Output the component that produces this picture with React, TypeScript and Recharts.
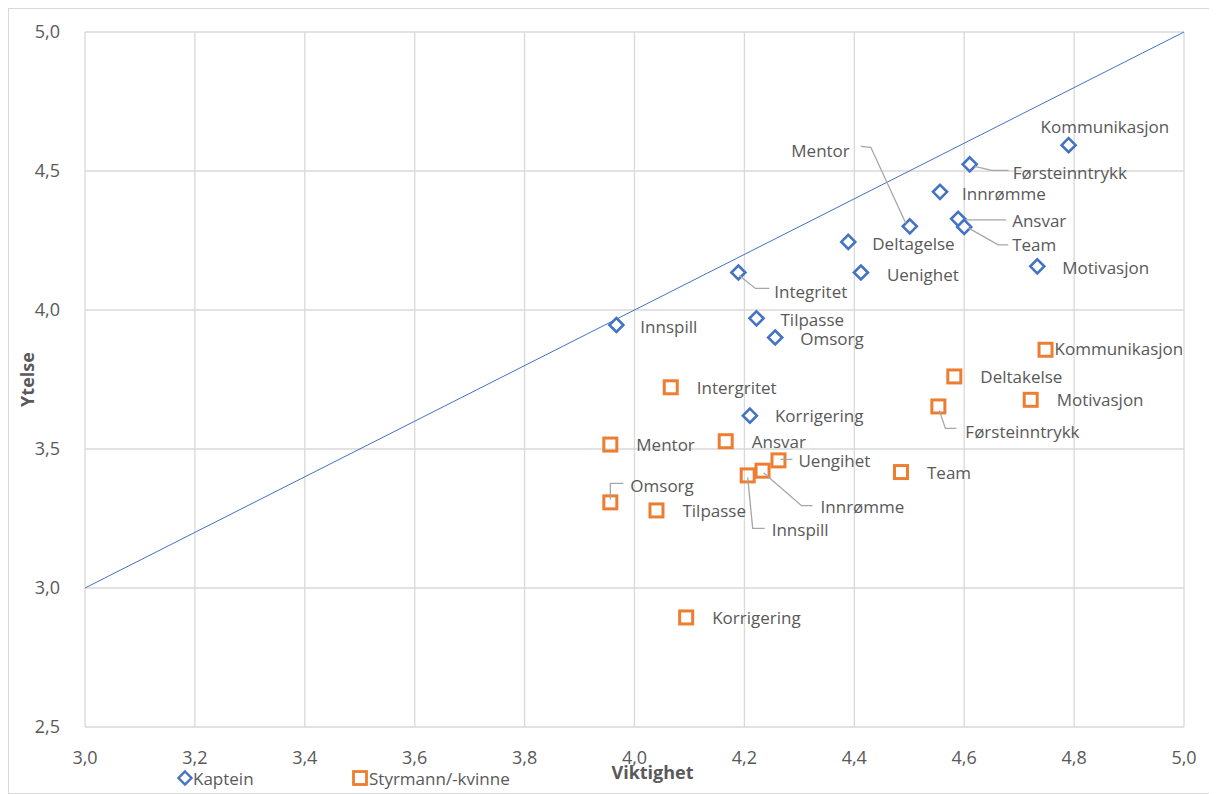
import {
  ScatterChart,
  Scatter,
  XAxis,
  YAxis,
  CartesianGrid,
  ReferenceLine,
  Legend,
  Label,
} from "recharts";

// Kaptein (blue diamonds)
const kapteinNames = [
  "Kommunikasjon", "Førsteinntrykk", "Innrømme", "Ansvar", "Team", "Mentor", "Deltagelse",
  "Uenighet", "Motivasjon", "Integritet", "Innspill", "Tilpasse", "Omsorg", "Korrigering",
];
const kapteinViktighet = [4.79, 4.61, 4.556, 4.589, 4.6, 4.501, 4.389, 4.412, 4.733, 4.189, 3.967, 4.222, 4.256, 4.21];
const kapteinYtelse = [4.593, 4.524, 4.425, 4.328, 4.299, 4.301, 4.245, 4.135, 4.157, 4.135, 3.946, 3.97, 3.901, 3.62];

// Styrmann/-kvinne (orange squares)
const styrmannNames = [
  "Kommunikasjon", "Deltakelse", "Motivasjon", "Førsteinntrykk", "Intergritet", "Mentor", "Ansvar",
  "Uengihet", "Innrømme", "Innspill", "Team", "Omsorg", "Tilpasse", "Korrigering",
];
const styrmannViktighet = [4.748, 4.582, 4.721, 4.553, 4.066, 3.956, 4.166, 4.262, 4.233, 4.206, 4.485, 3.956, 4.04, 4.094];
const styrmannYtelse = [3.857, 3.761, 3.677, 3.653, 3.722, 3.516, 3.528, 3.459, 3.422, 3.405, 3.417, 3.308, 3.279, 2.894];

// y = x reference line
const diagonal = [3, 5];

const xTicks = [3, 3.2, 3.4, 3.6, 3.8, 4, 4.2, 4.4, 4.6, 4.8, 5];
const yTicks = [2.5, 3, 3.5, 4, 4.5, 5];

type LabelPos = { dx: number; dy: number; anchor?: "start" | "end"; leader?: number[][] };

// label placement relative to the marker (data-label positions like in Excel)
const kapteinLabels: Record<string, LabelPos> = {
  Kommunikasjon: { dx: -28, dy: -19 },
  Førsteinntrykk: { dx: 43, dy: 8, leader: [[5, 2], [22, 6], [39, 6]] },
  Innrømme: { dx: 22, dy: 2 },
  Ansvar: { dx: 54, dy: 2, leader: [[5, 1], [48, 1]] },
  Team: { dx: 48, dy: 18, leader: [[4, 1], [34, 18], [44, 18]] },
  Mentor: { dx: -60, dy: -76, anchor: "end", leader: [[-49, -80], [-39, -79], [-4, -3]] },
  Deltagelse: { dx: 24, dy: 2 },
  Uenighet: { dx: 26, dy: 2 },
  Motivasjon: { dx: 25, dy: 1 },
  Integritet: { dx: 36, dy: 19, leader: [[1, 3], [17, 16], [31, 16]] },
  Innspill: { dx: 24, dy: 1 },
  Tilpasse: { dx: 24, dy: 1 },
  Omsorg: { dx: 25, dy: 1 },
  Korrigering: { dx: 25, dy: 0 },
};

const styrmannLabels: Record<string, LabelPos> = {
  Kommunikasjon: { dx: 9, dy: -1 },
  Deltakelse: { dx: 26, dy: 0 },
  Motivasjon: { dx: 26, dy: 0 },
  Førsteinntrykk: { dx: 27, dy: 25, leader: [[1, 4], [7, 22], [18, 22]] },
  Intergritet: { dx: 26, dy: 0 },
  Mentor: { dx: 26, dy: 0 },
  Ansvar: { dx: 26, dy: 0 },
  Uengihet: { dx: 20, dy: 0, leader: [[2, -1], [14, -1]] },
  Innrømme: { dx: 58, dy: 36, leader: [[1, 2], [39, 35], [50, 35]] },
  Innspill: { dx: 24, dy: 54, leader: [[0, 2], [5, 53], [17, 53]] },
  Team: { dx: 26, dy: 0 },
  Omsorg: { dx: 20, dy: -17, leader: [[0, -3], [0, -19], [13, -19]] },
  Tilpasse: { dx: 26, dy: 0 },
  Korrigering: { dx: 26, dy: 0 },
};

const BLUE = "#4472C4";
const ORANGE = "#ED7D31";
const TEXT = "#595959";
const GRID = "#D9D9D9";
const FONT = '"Open Sans", sans-serif';

const kapteinData = kapteinNames.map((name, i) => ({ name, x: kapteinViktighet[i], y: kapteinYtelse[i] }));
const styrmannData = styrmannNames.map((name, i) => ({ name, x: styrmannViktighet[i], y: styrmannYtelse[i] }));

const fmt = (v: number) => v.toFixed(1).replace(".", ",");

const DataLabel = ({ cx, cy, pos, name }: { cx: number; cy: number; pos?: LabelPos; name: string }) => {
  const p = pos ?? { dx: 24, dy: 0 };
  return (
    <g>
      {p.leader && (
        <polyline
          points={p.leader.map(([a, b]) => `${cx + a},${cy + b}`).join(" ")}
          fill="none"
          stroke="#A6A6A6"
          strokeWidth={1.3}
        />
      )}
      <text
        x={cx + p.dx}
        y={cy + p.dy}
        textAnchor={p.anchor ?? "start"}
        dominantBaseline="central"
        fill={TEXT}
        fontSize={17}
        fontFamily={FONT}
      >
        {name}
      </text>
    </g>
  );
};

const DiamondShape = (props: any) => {
  const { cx, cy, payload } = props;
  const r = 7;
  return (
    <g>
      <path
        d={`M${cx},${cy - r}L${cx + r},${cy}L${cx},${cy + r}L${cx - r},${cy}Z`}
        fill="#fff"
        stroke={BLUE}
        strokeWidth={2.6}
      />
      <DataLabel cx={cx} cy={cy} pos={kapteinLabels[payload.name]} name={payload.name} />
    </g>
  );
};

const SquareShape = (props: any) => {
  const { cx, cy, payload } = props;
  const h = 6.5;
  return (
    <g>
      <rect x={cx - h} y={cy - h} width={h * 2} height={h * 2} fill="none" stroke={ORANGE} strokeWidth={3} />
      <DataLabel cx={cx} cy={cy} pos={styrmannLabels[payload.name]} name={payload.name} />
    </g>
  );
};

const LegendContent = () => (
  <svg width={600} height={22} style={{ display: "block" }}>
    <path d="M176,4.5L182.5,11L176,17.5L169.5,11Z" fill="#fff" stroke={BLUE} strokeWidth={2.4} />
    <text x={184} y={11} dominantBaseline="central" fill={TEXT} fontSize={17} fontFamily={FONT}>
      Kaptein
    </text>
    <rect x={344.5} y={4.5} width={13} height={13} fill="none" stroke={ORANGE} strokeWidth={2.8} />
    <text x={360} y={11} dominantBaseline="central" fill={TEXT} fontSize={17} fontFamily={FONT}>
      Styrmann/-kvinne
    </text>
  </svg>
);

export default function App() {
  return (
    <div
      style={{
        width: 1207,
        height: 784,
        border: `1px solid ${GRID}`,
        background: "#fff",
        position: "relative",
        fontFamily: FONT,
      }}
    >
      <ScatterChart width={1207} height={784} margin={{ top: 23, right: 32, left: 0, bottom: 0 }}>
        <CartesianGrid stroke={GRID} strokeWidth={1.3} />
        <XAxis
          type="number"
          dataKey="x"
          domain={[3, 5]}
          ticks={xTicks}
          tickFormatter={fmt}
          tick={{ fill: TEXT, fontSize: 18, fontFamily: FONT }}
          tickLine={false}
          axisLine={false}
          tickSize={0}
          tickMargin={24}
          height={66}
          interval={0}
        >
          <Label
            content={(props: any) => {
              const vb = props.viewBox;
              return (
                <text
                  x={vb.x + vb.width / 2 + 18}
                  y={vb.y + 45}
                  textAnchor="middle"
                  dominantBaseline="central"
                  fill={TEXT}
                  fontSize={18}
                  fontWeight="bold"
                  fontFamily={FONT}
                >
                  Viktighet
                </text>
              );
            }}
          />
        </XAxis>
        <YAxis
          type="number"
          dataKey="y"
          domain={[2.5, 5]}
          ticks={yTicks}
          tickFormatter={fmt}
          tick={{ fill: TEXT, fontSize: 18, fontFamily: FONT }}
          tickLine={false}
          axisLine={false}
          tickSize={0}
          tickMargin={25}
          width={76}
          interval={0}
        >
          <Label
            content={(props: any) => {
              const vb = props.viewBox;
              const cx = vb.x + 18;
              const cy = vb.y + vb.height / 2;
              return (
                <text
                  x={cx}
                  y={cy}
                  transform={`rotate(-90, ${cx}, ${cy})`}
                  textAnchor="middle"
                  dominantBaseline="central"
                  fill={TEXT}
                  fontSize={18}
                  fontWeight="bold"
                  fontFamily={FONT}
                >
                  Ytelse
                </text>
              );
            }}
          />
        </YAxis>
        <ReferenceLine
          segment={[
            { x: diagonal[0], y: diagonal[0] },
            { x: diagonal[1], y: diagonal[1] },
          ]}
          stroke={BLUE}
          strokeWidth={1}
        />
        <Scatter name="Kaptein" data={kapteinData} shape={DiamondShape} isAnimationActive={false} />
        <Scatter name="Styrmann/-kvinne" data={styrmannData} shape={SquareShape} isAnimationActive={false} />
        <Legend
          verticalAlign="middle"
          align="center"
          wrapperStyle={{ top: 758, left: 0, width: 600, height: 22 }}
          content={LegendContent}
        />
      </ScatterChart>
    </div>
  );
}
